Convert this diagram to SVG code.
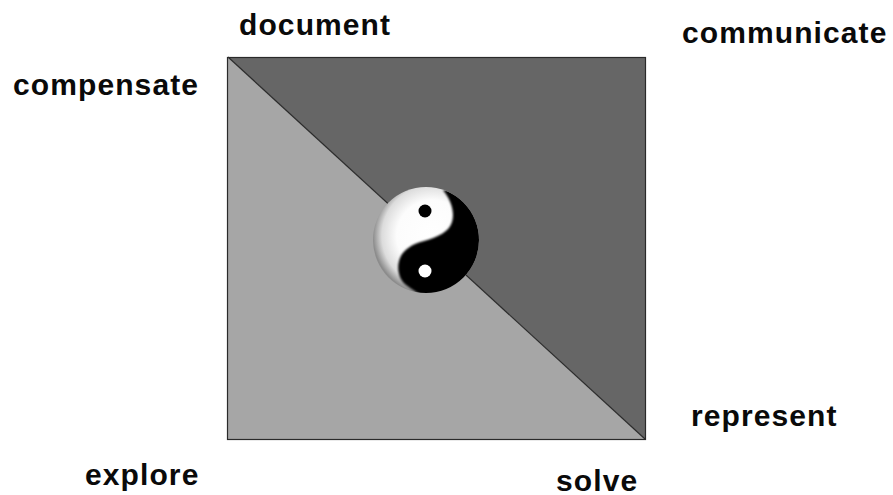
<svg xmlns="http://www.w3.org/2000/svg" width="893" height="495" viewBox="0 0 893 495">
<style>
.lbl{font-family:"Liberation Sans",Arial,sans-serif;font-size:30px;font-weight:bold;fill:#0a0a0a;letter-spacing:1.1px}
.edge{stroke:#2a2a2a;stroke-width:1.2;fill:none}
</style>
<defs>
<radialGradient id="ball" cx="0.56" cy="0.46" r="0.56">
<stop offset="0" stop-color="#fff"/><stop offset="0.6" stop-color="#fcfcfc"/><stop offset="0.85" stop-color="#dcdcdc"/><stop offset="1" stop-color="#8c8c8c"/>
</radialGradient>
<filter id="soft" x="-5%" y="-5%" width="110%" height="110%"><feGaussianBlur stdDeviation="0.8"/></filter>
<clipPath id="disc"><circle cx="426" cy="240" r="53"/></clipPath>
</defs>
<rect width="893" height="495" fill="#fff"/>
<g id="square">
<polygon points="228,57 645,57 645,439" fill="#666"/>
<polygon points="228,57 645,439 228,439" fill="#a6a6a6"/>
</g>
<g id="connectors">
<rect class="edge" x="227.5" y="57.5" width="418" height="382"/>
<line class="edge" x1="228" y1="57" x2="645" y2="439"/>
</g>
<g id="yinyang">
<circle cx="426" cy="240" r="53" fill="url(#ball)"/>
<g clip-path="url(#disc)">
<path filter="url(#soft)" d="M443,190 C451,200 455,212 452,222 C449,232 438,237 424,241 C412,244 403,250 400,258 C396,268 399,280 406,285 C411,289 416,291 421,296 L470,296 L490,240 L470,190 Z" fill="#000"/>
</g>
<circle cx="425" cy="211" r="6.5" fill="#000"/>
<circle cx="425" cy="271" r="6.5" fill="#fff"/>
</g>
<g id="document"><text class="lbl" x="239" y="35">document</text></g>
<g id="communicate"><text class="lbl" x="682" y="43">communicate</text></g>
<g id="compensate"><text class="lbl" x="13" y="95">compensate</text></g>
<g id="represent"><text class="lbl" x="691" y="426">represent</text></g>
<g id="explore"><text class="lbl" x="85" y="485">explore</text></g>
<g id="solve"><text class="lbl" x="556" y="491">solve</text></g>
</svg>
